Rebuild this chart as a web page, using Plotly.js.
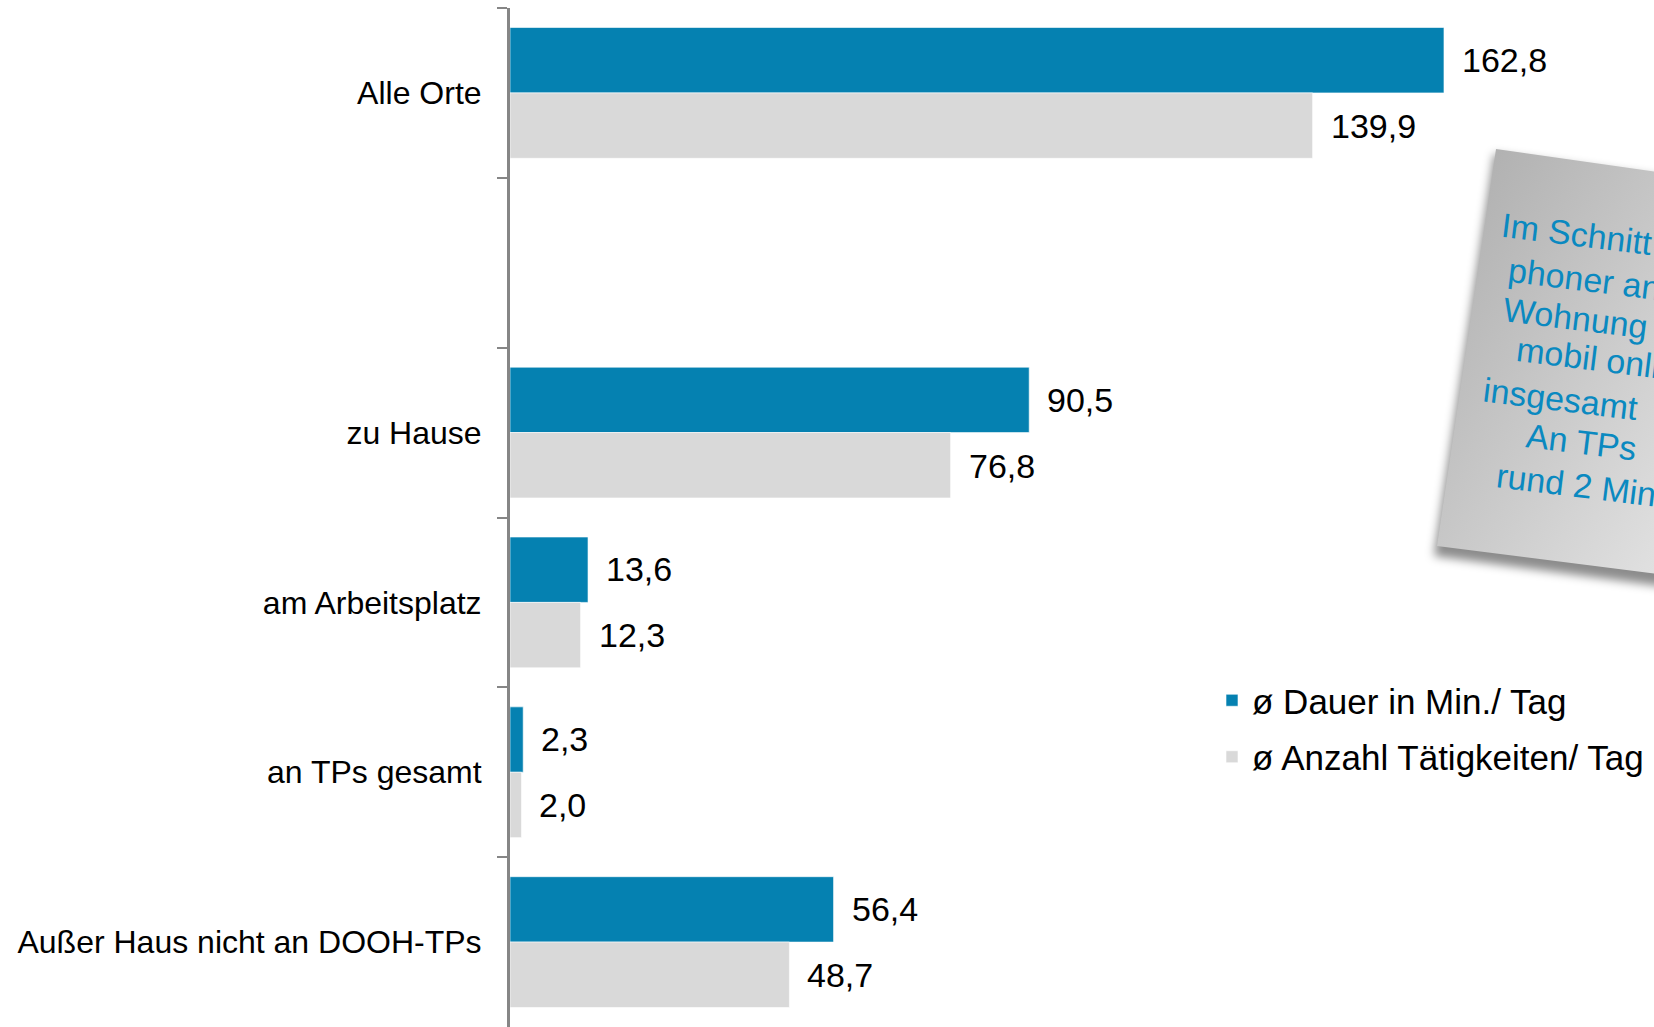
<!DOCTYPE html>
<html><head><meta charset="utf-8">
<script src="https://cdn.plot.ly/plotly-3.0.1.min.js"></script>
<style>html,body{margin:0;padding:0;background:#fff;}#chart{width:1654px;height:1027px;}</style>
</head><body><div id="chart"></div>
<script>
// ---- data ----
const categories = ['Alle Orte', ' ', 'zu Hause', 'am Arbeitsplatz', 'an TPs gesamt', 'Außer Haus nicht an DOOH-TPs'];
const dauer = [162.8, null, 90.5, 13.6, 2.3, 56.4];
const anzahl = [139.9, null, 76.8, 12.3, 2.0, 48.7];
const seriesNames = ['ø Dauer in Min./ Tag', 'ø Anzahl Tätigkeiten/ Tag'];
const noteLines = ['Im Schnitt', 'phoner an', 'Wohnung', 'mobil online', 'insgesamt', 'An TPs', 'rund 2 Min'];

// ---- styling / layout ----
const W = 1654, H = 1027;
const L = 510, T = 8;
const PW = W - L, PH = H - T;
const FONT = 'Liberation Sans, Arial, sans-serif';
const BLUE = '#0581b1', GRAY = '#d9d9d9', NOTE = '#0a89c0';
const px = x => (x - L) / PW;
const py = y => (H - y) / PH;
const fmt = v => v.toFixed(1).replace('.', ',');

const traces = [
  {type:'bar', orientation:'h', name:seriesNames[0], y:categories, x:dauer, legendgroup:'a',
   marker:{color:BLUE, line:{color:'#ffffff', width:0.6}}, hoverinfo:'x'},
  {type:'bar', orientation:'h', name:seriesNames[1], y:categories, x:anzahl, legendgroup:'b',
   marker:{color:GRAY, line:{color:'#ffffff', width:0.6}}, hoverinfo:'x'}
];

const annotations = [];
function addVals(vals, shift){
  vals.forEach((v,i) => {
    if (v == null) return;
    annotations.push({x:v, y:categories[i], xref:'x', yref:'y', text:fmt(v), showarrow:false,
      xanchor:'left', yanchor:'middle', xshift:16, yshift:shift,
      font:{family:FONT, size:34, color:'#000'}});
  });
}
addVals(dauer, 33);
addVals(anzahl, -33);

// note text lines (left / cap-middle start points in pixels)
const noteStarts = [[1500,225],[1507,269],[1502,309],[1515,349],[1482,389],[1525,435],[1495,475]];
const theta = 7, NFS = 34;
const cv = document.createElement('canvas').getContext('2d');
cv.font = NFS + 'px "Liberation Sans"';
const th = theta*Math.PI/180;
noteLines.forEach((t,i) => {
  const w = cv.measureText(t).width + 4;
  const h = NFS*1.3;
  const ax = noteStarts[i][0] - (h/2)*Math.sin(th);
  const ay = noteStarts[i][1] + (w/2)*Math.sin(th);
  annotations.push({x:px(ax), y:py(ay), xref:'paper', yref:'paper', text:t, showarrow:false,
    xanchor:'left', yanchor:'middle', textangle:theta, font:{family:FONT, size:NFS, color:NOTE}});
});

// note box as svg image (gradient + shadow)
const bx = 1420, by = 130, bw = 300, bh = 480;
const pts = [[1496,149],[1720,181],[1720,582],[1437,546]].map(p => (p[0]-bx)+','+(p[1]-by)).join(' ');
const spts = [[1494,154],[1720,186],[1720,594],[1434,556]].map(p => (p[0]-bx)+','+(p[1]-by)).join(' ');
const svg = `<svg xmlns="http://www.w3.org/2000/svg" width="${bw}" height="${bh}" viewBox="0 0 ${bw} ${bh}">
<defs><linearGradient id="g" x1="0" y1="0" x2="1" y2="1"><stop offset="0" stop-color="#ababab"/><stop offset="1" stop-color="#e8e8e8"/></linearGradient>
<filter id="b" x="-20%" y="-20%" width="140%" height="140%"><feGaussianBlur stdDeviation="5"/></filter></defs>
<polygon points="${spts}" fill="rgba(0,0,0,0.45)" filter="url(#b)"/>
<polygon points="${pts}" fill="url(#g)"/></svg>`;
const images = [{source:'data:image/svg+xml;charset=utf-8,' + encodeURIComponent(svg),
  xref:'paper', yref:'paper', x:px(bx), y:py(by), sizex:bw/PW, sizey:bh/PH,
  xanchor:'left', yanchor:'top', sizing:'stretch', layer:'above'}];

const layout = {
  width:W, height:H, margin:{l:L, r:0, t:T, b:0, pad:0},
  paper_bgcolor:'#ffffff', plot_bgcolor:'rgba(0,0,0,0)',
  font:{family:FONT, color:'#000'},
  barmode:'group', bargap:0.23, bargroupgap:0,
  showlegend:true,
  legend:{x:px(1212), y:py(671), xanchor:'left', yanchor:'top', font:{family:FONT, size:35, color:'#000'},
    bgcolor:'rgba(0,0,0,0)', tracegroupgap:8},
  xaxis:{range:[0, PW/5.737], visible:false, showgrid:false, zeroline:false, fixedrange:true},
  yaxis:{type:'category', categoryorder:'array', categoryarray:categories, autorange:'reversed',
    showline:true, linecolor:'#868686', linewidth:3, ticks:'outside', ticklen:10, tickwidth:2,
    tickcolor:'#868686', tickson:'boundaries', tickfont:{family:FONT, size:32, color:'#000'},
    ticklabelstandoff:19, showgrid:false, zeroline:false, fixedrange:true},
  annotations:annotations, images:images
};
Plotly.newPlot('chart', traces, layout, {displayModeBar:false, staticPlot:true});
</script></body></html>
